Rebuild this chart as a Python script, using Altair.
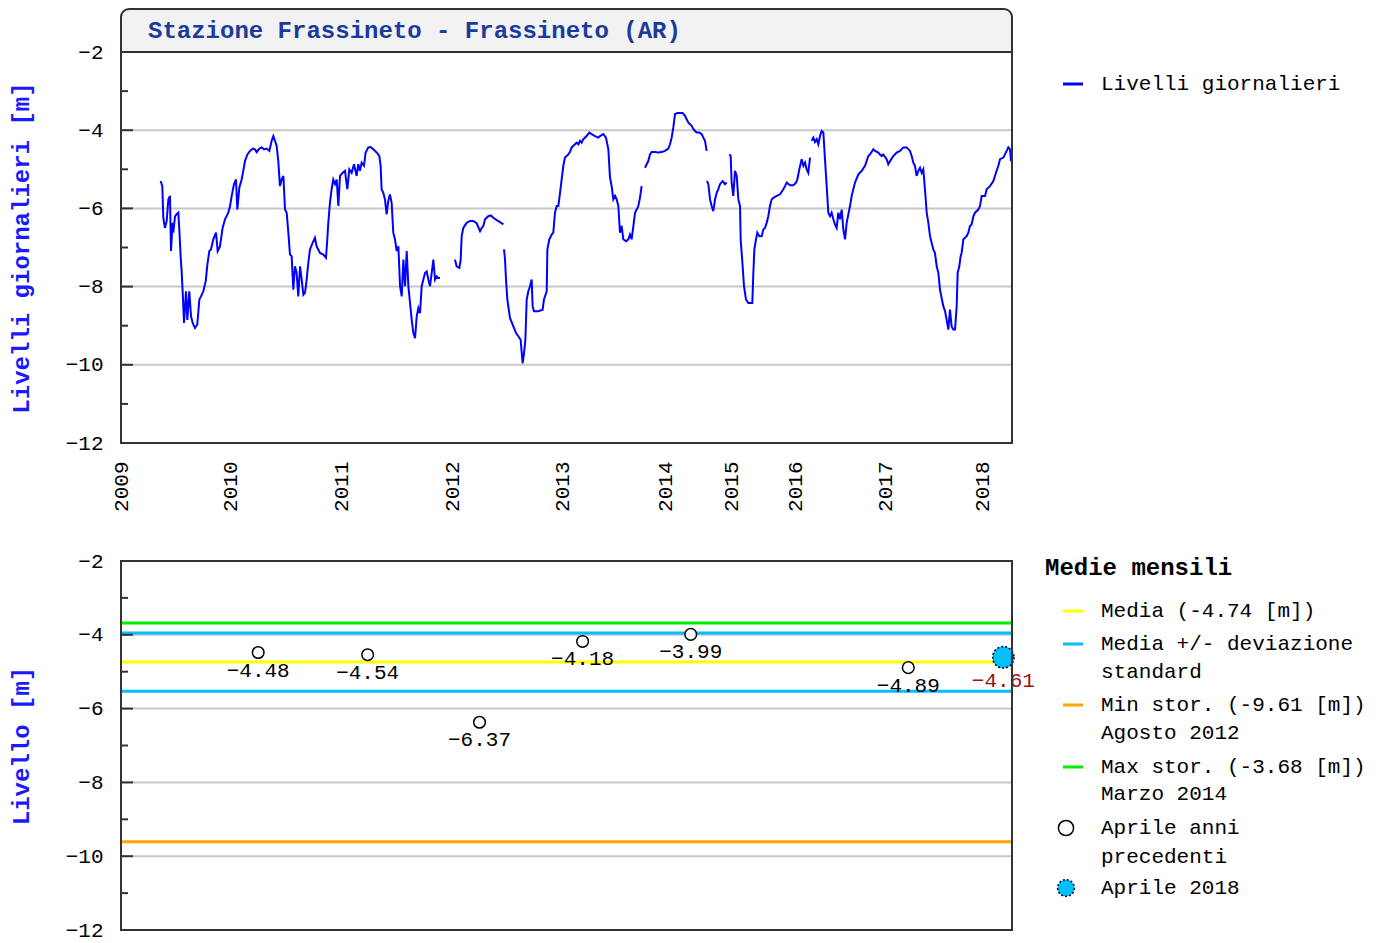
import altair as alt
import pandas as pd

# ---------------- data ----------------
# Daily groundwater levels [m]; x in decimal years on the station's (compressed) record axis.
# None marks a gap in the record.
years = [
    2009.362, 2009.377, 2009.386, 2009.401, 2009.417, 2009.432, 2009.447, 2009.456, 2009.471, 2009.477,
    2009.493, 2009.508, 2009.523, 2009.532, 2009.544, 2009.554, 2009.563, 2009.575, 2009.593, 2009.605,
    2009.623, 2009.639, 2009.654, 2009.675, 2009.696, 2009.715, 2009.730, 2009.751, 2009.773, 2009.788,
    2009.806, 2009.821, 2009.842, 2009.867, 2009.882, 2009.903, 2009.927, 2009.949, 2009.979, 2009.995,
    2010.010, 2010.031, 2010.049, 2010.061, 2010.079, 2010.100, 2010.115, 2010.130, 2010.152, 2010.176,
    2010.200, 2010.221, 2010.236, 2010.260, 2010.281, 2010.303, 2010.327, 2010.351, 2010.372, 2010.387,
    2010.402, 2010.417, 2010.432, 2010.447, 2010.463, 2010.478, 2010.493, 2010.508, 2010.523, 2010.538,
    2010.553, 2010.568, 2010.583, 2010.598, 2010.613, 2010.629, 2010.644, 2010.659, 2010.674, 2010.689,
    2010.704, 2010.719, 2010.743, 2010.764, 2010.779, 2010.810, 2010.840, 2010.864, 2010.876, 2010.885,
    2010.900, 2010.915, 2010.930, 2010.946, 2010.961, 2010.976, 2010.991, 2011.015, 2011.036, 2011.057,
    2011.075, 2011.096, 2011.117, 2011.141, 2011.156, 2011.171, 2011.186, 2011.207, 2011.222, 2011.246,
    2011.267, 2011.291, 2011.321, 2011.345, 2011.357, 2011.366, 2011.381, 2011.396, 2011.411, 2011.426,
    2011.441, 2011.456, 2011.471, 2011.486, 2011.502, 2011.517, 2011.532, 2011.547, 2011.562, 2011.577,
    2011.592, 2011.607, 2011.622, 2011.637, 2011.652, 2011.667, 2011.682, 2011.697, 2011.712, 2011.727,
    2011.742, 2011.757, 2011.772, 2011.787, 2011.802, 2011.817, 2011.832, 2011.847, 2011.862, 2011.877,
    2011.892, None,
    2012.027, 2012.042, 2012.067, 2012.079, 2012.088, 2012.103, 2012.133, 2012.164, 2012.194, 2012.224,
    2012.255, 2012.270, 2012.285, 2012.300, 2012.330, 2012.352, 2012.376, 2012.406, 2012.436, 2012.467,
    None,
    2012.473, 2012.482, 2012.491, 2012.503, 2012.527, 2012.558, 2012.582, 2012.603, 2012.624, 2012.642,
    2012.655, 2012.667, 2012.679, 2012.694, 2012.709, 2012.724, 2012.733, 2012.745, 2012.785, 2012.824,
    2012.836, 2012.861, 2012.867, 2012.885, 2012.906, 2012.921, 2012.936, 2012.952, 2012.967, 2012.982,
    2012.997, 2013.013, 2013.029, 2013.061, 2013.078, 2013.094, 2013.110, 2013.126, 2013.142, 2013.159,
    2013.175, 2013.191, 2013.207, 2013.239, 2013.265, 2013.288, 2013.320, 2013.353, 2013.369, 2013.401,
    2013.427, 2013.450, 2013.466, 2013.482, 2013.498, 2013.515, 2013.531, 2013.547, 2013.563, 2013.579,
    2013.595, 2013.621, 2013.644, 2013.660, 2013.676, 2013.693, 2013.709, 2013.725, 2013.741, 2013.757,
    2013.773, None,
    2013.806, 2013.822, 2013.838, 2013.854, 2013.870, 2013.903, 2013.935, 2013.968, 2014.000, 2014.050,
    2014.076, 2014.101, 2014.126, 2014.152, 2014.187, 2014.227, 2014.268, 2014.303, 2014.328, 2014.354,
    2014.379, 2014.404, 2014.429, 2014.455, 2014.480, 2014.520, 2014.556, 2014.581, 2014.606, 2014.631,
    None,
    2014.636, 2014.657, 2014.682, 2014.707, 2014.732, 2014.758, 2014.783, 2014.808, 2014.833, 2014.874,
    2014.909, 2014.934, None,
    2014.975, 2014.995, 2015.010, 2015.036, 2015.063, 2015.089, 2015.115, 2015.141, 2015.151, 2015.182,
    2015.203, 2015.234, 2015.271, 2015.307, 2015.333, 2015.349, 2015.365, 2015.391, 2015.411, 2015.443,
    2015.479, 2015.505, 2015.531, 2015.557, 2015.583, 2015.609, 2015.635, 2015.661, 2015.714, 2015.766,
    2015.818, 2015.844, 2015.870, 2015.922, 2015.974, 2016.011, 2016.026, 2016.048, 2016.074, 2016.093,
    2016.111, 2016.130, 2016.148, 2016.167, None,
    2016.185, 2016.204, 2016.222, 2016.241, 2016.259, 2016.278, 2016.296, 2016.315, 2016.333, 2016.352,
    2016.370, 2016.389, 2016.407, 2016.426, 2016.444, 2016.463, 2016.481, 2016.500, 2016.519, 2016.537,
    2016.556, 2016.574, 2016.593, 2016.611, 2016.630, 2016.648, 2016.667, 2016.704, 2016.741, 2016.778,
    2016.815, 2016.833, 2016.870, 2016.889, 2016.926, 2016.944, 2016.963, 2016.981, 2017.017, 2017.034,
    2017.052, 2017.086, 2017.120, 2017.155, 2017.189, 2017.223, 2017.258, 2017.275, 2017.292, 2017.309,
    2017.326, 2017.344, 2017.361, 2017.378, 2017.395, 2017.412, 2017.430, 2017.447, 2017.464, 2017.498,
    2017.515, 2017.533, 2017.550, 2017.567, 2017.601, 2017.619, 2017.636, 2017.653, 2017.670, 2017.687,
    2017.704, 2017.722, 2017.739, 2017.749, 2017.766, 2017.780, 2017.790, 2017.808, 2017.842, 2017.859,
    2017.876, 2017.893, 2017.911, 2017.928, 2017.962, 2017.979, 2017.997, 2018.031, 2018.048, 2018.082,
    2018.117, 2018.144, 2018.168, 2018.186, 2018.220, 2018.254, 2018.271, 2018.289, 2018.299,
]
levels = [
    -5.30, -5.43, -6.24, -6.50, -6.32, -5.77, -5.68, -7.09, -6.37, -6.62,
    -6.20, -6.15, -6.11, -6.54, -7.22, -7.65, -8.16, -8.93, -8.12, -8.85,
    -8.12, -8.76, -8.93, -9.06, -8.97, -8.33, -8.25, -8.12, -7.86, -7.44,
    -7.09, -7.05, -6.79, -6.62, -7.09, -6.97, -6.50, -6.28, -6.11, -5.94,
    -5.68, -5.38, -5.26, -6.03, -5.47, -5.26, -5.04, -4.79, -4.62, -4.53,
    -4.47, -4.49, -4.56, -4.47, -4.44, -4.49, -4.47, -4.53, -4.27, -4.15,
    -4.27, -4.40, -4.79, -5.43, -5.26, -5.17, -6.03, -6.11, -6.62, -7.18,
    -7.22, -8.08, -7.48, -7.65, -8.25, -7.48, -7.82, -8.21, -8.16, -7.82,
    -7.39, -7.05, -6.88, -6.75, -6.97, -7.14, -7.18, -7.26, -6.79, -6.37,
    -5.85, -5.51, -5.26, -5.38, -5.26, -5.94, -5.17, -5.09, -5.04, -5.51,
    -5.00, -5.09, -4.87, -5.17, -4.87, -5.04, -4.83, -4.91, -4.57, -4.44,
    -4.43, -4.49, -4.57, -4.66, -4.91, -5.51, -5.60, -5.77, -6.15, -5.81,
    -5.64, -5.85, -6.62, -6.79, -7.09, -6.97, -7.99, -8.25, -7.31, -7.99,
    -7.09, -7.99, -8.42, -8.85, -9.19, -9.32, -8.76, -8.55, -8.68, -7.99,
    -7.82, -7.65, -7.61, -7.82, -7.99, -7.65, -7.31, -7.82, -7.74, -7.78,
    -7.78, None,
    -7.31, -7.48, -7.52, -7.31, -6.71, -6.50, -6.37, -6.32, -6.32, -6.38,
    -6.58, -6.50, -6.45, -6.28, -6.20, -6.18, -6.24, -6.30, -6.35, -6.41,
    None,
    -7.05, -7.31, -7.82, -8.33, -8.80, -9.02, -9.19, -9.27, -9.36, -9.96,
    -9.70, -9.36, -8.33, -8.12, -7.99, -7.82, -8.50, -8.63, -8.63, -8.59,
    -8.33, -8.12, -7.05, -6.79, -6.67, -6.62, -6.11, -5.94, -5.94, -5.60,
    -5.26, -4.91, -4.70, -4.62, -4.55, -4.44, -4.40, -4.36, -4.32, -4.36,
    -4.27, -4.32, -4.23, -4.15, -4.06, -4.10, -4.15, -4.19, -4.15, -4.10,
    -4.19, -4.49, -5.21, -5.43, -5.77, -5.68, -5.77, -5.94, -6.62, -6.45,
    -6.79, -6.84, -6.79, -6.67, -6.79, -6.45, -6.11, -6.03, -5.94, -5.73,
    -5.43, None,
    -4.96, -4.87, -4.79, -4.62, -4.56, -4.56, -4.57, -4.56, -4.53, -4.47,
    -4.36, -4.19, -3.93, -3.59, -3.56, -3.56, -3.56, -3.63, -3.72, -3.80,
    -3.85, -3.89, -3.97, -4.02, -4.06, -4.06, -4.10, -4.19, -4.27, -4.53,
    None,
    -5.30, -5.38, -5.77, -5.94, -6.07, -5.77, -5.60, -5.51, -5.38, -5.30,
    -5.38, -5.34, None,
    -4.62, -4.66, -5.34, -5.68, -5.04, -5.17, -5.77, -5.94, -6.79, -7.48,
    -7.99, -8.33, -8.42, -8.42, -8.42, -7.65, -7.05, -6.79, -6.62, -6.71,
    -6.71, -6.54, -6.50, -6.37, -6.20, -5.94, -5.77, -5.73, -5.68, -5.64,
    -5.51, -5.43, -5.34, -5.41, -5.41, -5.34, -5.26, -5.00, -4.74, -4.91,
    -4.83, -5.00, -5.09, -4.70, None,
    -4.27, -4.19, -4.30, -4.23, -4.36, -4.15, -4.02, -4.06, -4.74, -5.43,
    -6.11, -6.20, -6.11, -6.28, -6.41, -6.50, -6.11, -6.28, -6.03, -6.54,
    -6.79, -6.37, -6.15, -5.94, -5.68, -5.51, -5.34, -5.13, -5.04, -4.91,
    -4.66, -4.62, -4.49, -4.53, -4.57, -4.62, -4.66, -4.62, -4.74, -4.87,
    -4.79, -4.66, -4.57, -4.53, -4.44, -4.44, -4.53, -4.66, -4.83, -4.91,
    -5.17, -5.04, -4.96, -5.09, -5.00, -5.51, -6.11, -6.37, -6.71, -7.05,
    -7.14, -7.48, -7.65, -8.08, -8.50, -8.63, -8.85, -9.10, -8.59, -9.02,
    -9.10, -9.10, -8.50, -7.65, -7.48, -7.22, -7.14, -6.79, -6.71, -6.62,
    -6.45, -6.41, -6.20, -6.11, -6.03, -5.94, -5.68, -5.68, -5.51, -5.43,
    -5.30, -5.09, -4.91, -4.74, -4.70, -4.53, -4.44, -4.49, -4.79,
]

# April monthly means of previous years and of 2018
april_years = [2010.25, 2011.24, 2012.25, 2013.20, 2014.39, 2017.24]
april_values = [-4.48, -4.54, -6.37, -4.18, -3.99, -4.89]
current_years = [2018.22]
current_values = [-4.61]

# Reference lines (monthly statistics)
ref_names = ["Media", "Media + dev. std", "Media - dev. std", "Min stor.", "Max stor."]
ref_values = [-4.74, -3.95, -5.53, -9.61, -3.68]
ref_colors = ["#ffff00", "#00bfff", "#00bfff", "#ffa500", "#00ee00"]

year_ticks = [2009, 2010, 2011, 2012, 2013, 2014, 2015, 2016, 2017, 2018]
y_labels = [-12, -10, -8, -6, -4, -2]
y_grid = [-10, -8, -6, -4]
y_minor = [-11, -9, -7, -5, -3]

# ---------------- build tables ----------------
rows, seg = [], 0
for x, v in zip(years, levels):
    if x is None or v is None:
        seg += 1
        continue
    rows.append({"year": x, "level": v, "seg": seg})
df_line = pd.DataFrame(rows)
df_april = pd.DataFrame({"year": april_years, "value": april_values})
df_cur = pd.DataFrame({"year": current_years, "value": current_values})
df_ref = pd.DataFrame({"name": ref_names, "value": ref_values, "color": ref_colors})
df_grid = pd.DataFrame({"v": y_grid})
df_major = pd.DataFrame({"v": y_labels})
df_minor = pd.DataFrame({"v": y_minor})
one = pd.DataFrame({"k": [0]})

W = 891
H1 = 391
H2 = 369
MONO = "Liberation Mono"
BLUE_T = "#1a3a9c"
AX_T = "#1a1aff"

xscale = alt.Scale(
    domain=[2009, 2010, 2011, 2012, 2013, 2014, 2015, 2016, 2017, 2018, 2018.309],
    range=[0, 109.6, 220, 331, 441, 544, 610, 674, 764, 861, W],
    nice=False, zero=False,
)
yscale = alt.Scale(domain=[-12, -2], nice=False, zero=False)


def yaxis(title):
    return alt.Axis(
        values=y_labels, format="d", title=title, grid=False, ticks=False, tickSize=0,
        domain=False, labelFont=MONO, labelFontSize=21, labelColor="#000",
        labelPadding=18, titleFont=MONO, titleFontSize=24, titleFontWeight="bold",
        titleColor=AX_T, titlePadding=32,
    )


def grid_and_ticks(h):
    g = alt.Chart(df_grid).mark_rule(color="#c8c8c8", strokeWidth=2).encode(
        y=alt.Y("v:Q", scale=yscale), x=alt.value(0), x2=alt.value(W))
    t1 = alt.Chart(df_major).mark_rule(color="#333", strokeWidth=2).encode(
        y=alt.Y("v:Q", scale=yscale), x=alt.value(0), x2=alt.value(12))
    t2 = alt.Chart(df_minor).mark_rule(color="#333", strokeWidth=2).encode(
        y=alt.Y("v:Q", scale=yscale), x=alt.value(0), x2=alt.value(7))
    return g, t1, t2


def frame(h):
    return alt.Chart(one).mark_rect(fill=None, fillOpacity=0, stroke="#333", strokeWidth=2).encode(
        x=alt.value(0), x2=alt.value(W), y=alt.value(0), y2=alt.value(h))


def txt(x, y, s, bold=False, color="#000", size=21, font=MONO, align="left"):
    return alt.Chart(one).mark_text(
        align=align, baseline="middle", font=font, fontSize=size,
        fontWeight="bold" if bold else "normal", color=color,
    ).encode(x=alt.value(x), y=alt.value(y), text=alt.value(s))


def swatch(y, color, width=3):
    return alt.Chart(one).mark_rule(color=color, strokeWidth=width).encode(
        x=alt.value(942), x2=alt.value(962), y=alt.value(y))


# ---------------- top panel ----------------
g1, t1a, t1b = grid_and_ticks(H1)
line = alt.Chart(df_line).mark_line(color="#0000ff", strokeWidth=2).encode(
    x=alt.X("year:Q", scale=xscale, axis=alt.Axis(
        values=year_ticks, format="d", title=None, labelAngle=270, labelAlign="right",
        labelBaseline="middle", labelFont=MONO, labelFontSize=21, labelColor="#000",
        ticks=False, tickSize=0, domain=False, grid=False, labelPadding=18,
        labelOverlap=False, labelFlush=False)),
    y=alt.Y("level:Q", scale=yscale, axis=yaxis("Livelli giornalieri [m]")),
    detail="seg:N",
)
title_box = alt.Chart(one).mark_rect(
    fill="#f2f2f2", stroke="#333", strokeWidth=2, cornerRadiusTopLeft=8, cornerRadiusTopRight=8
).encode(x=alt.value(0), x2=alt.value(W), y=alt.value(-43), y2=alt.value(0))
title_txt = txt(27, -21, "Stazione Frassineto - Frassineto (AR)", bold=True, color=BLUE_T, size=24)
leg1 = alt.Chart(one).mark_rule(color="#0000ff", strokeWidth=3).encode(
    x=alt.value(942), x2=alt.value(962), y=alt.value(32))
leg1t = txt(980, 32, "Livelli giornalieri")

top = alt.layer(g1, line, t1a, t1b, frame(H1), title_box, title_txt, leg1, leg1t).properties(
    width=W, height=H1)

# ---------------- bottom panel ----------------
g2, t2a, t2b = grid_and_ticks(H2)
refs = alt.Chart(df_ref).mark_rule(strokeWidth=3).encode(
    y=alt.Y("value:Q", scale=yscale, axis=yaxis("Livello [m]")),
    x=alt.value(0), x2=alt.value(W),
    color=alt.Color("color:N", scale=None, legend=None),
)
pts = alt.Chart(df_april).mark_point(
    shape="circle", filled=True, fill="white", stroke="black", strokeWidth=1.5, size=135, opacity=1
).encode(x=alt.X("year:Q", scale=xscale, axis=None), y=alt.Y("value:Q", scale=yscale))
pts_lab = alt.Chart(df_april).mark_text(
    font=MONO, fontSize=21, color="#000", dy=18, baseline="middle"
).encode(x=alt.X("year:Q", scale=xscale), y=alt.Y("value:Q", scale=yscale),
         text=alt.Text("value:Q", format=".2f"))
cur = alt.Chart(df_cur).mark_point(
    shape="circle", filled=True, fill="#00bfff", stroke="black", strokeWidth=1.5,
    strokeDash=[2, 2], size=460, opacity=1
).encode(x=alt.X("year:Q", scale=xscale), y=alt.Y("value:Q", scale=yscale))
cur_lab = alt.Chart(df_cur).mark_text(
    font=MONO, fontSize=21, color="#a01010", dy=24, baseline="middle"
).encode(x=alt.X("year:Q", scale=xscale), y=alt.Y("value:Q", scale=yscale),
         text=alt.Text("value:Q", format=".2f"))

legend2 = [
    txt(924, 7, "Medie mensili", bold=True, size=24),
    swatch(50, "#ffff00"), txt(980, 50, "Media (-4.74 [m])"),
    swatch(83, "#00bfff"), txt(980, 83, "Media +/- deviazione"), txt(980, 111, "standard"),
    swatch(144, "#ffa500"), txt(980, 144, "Min stor. (-9.61 [m])"), txt(980, 172, "Agosto 2012"),
    swatch(206, "#00ee00"), txt(980, 206, "Max stor. (-3.68 [m])"), txt(980, 233, "Marzo 2014"),
    alt.Chart(one).mark_point(shape="circle", filled=True, fill="white", stroke="black",
                              strokeWidth=1.5, size=230, opacity=1).encode(
        x=alt.value(945), y=alt.value(267)),
    txt(980, 267, "Aprile anni"), txt(980, 296, "precedenti"),
    alt.Chart(one).mark_point(shape="circle", filled=True, fill="#00bfff", stroke="black",
                              strokeWidth=1.5, strokeDash=[2, 2], size=280, opacity=1).encode(
        x=alt.value(945), y=alt.value(327)),
    txt(980, 327, "Aprile 2018"),
]

bottom = alt.layer(g2, refs, t2a, t2b, pts, pts_lab, cur, cur_lab, frame(H2), *legend2).properties(
    width=W, height=H2)

chart = alt.vconcat(top, bottom, spacing=38).configure_view(stroke=None).properties(
    padding={"left": 1, "top": 0, "right": 5, "bottom": 5})

chart.save("out.html", embed_options={"renderer": "svg", "actions": False})
